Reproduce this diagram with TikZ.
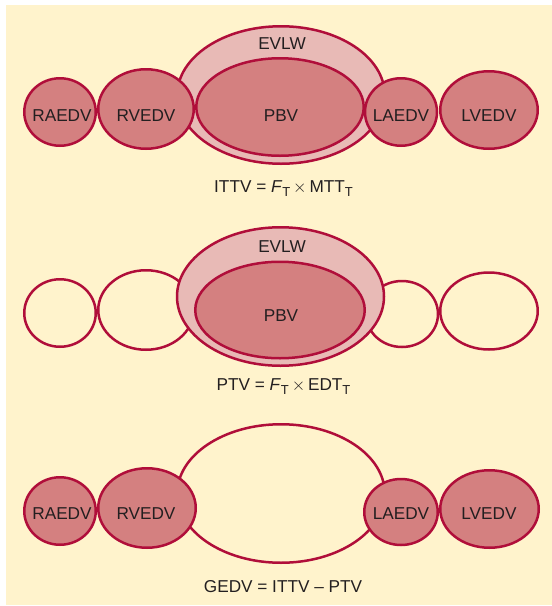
\documentclass[tikz,border=0pt]{standalone}
\usepackage{fontspec}
\setmainfont{Liberation Sans}
\usetikzlibrary{shapes.geometric}
\definecolor{bgyellow}{RGB}{255,243,204}
\definecolor{chamberfill}{RGB}{212,128,128}
\definecolor{evlwfill}{RGB}{232,186,182}
\definecolor{edgered}{RGB}{176,14,58}
\definecolor{txtgray}{RGB}{35,31,32}
\newcommand{\subT}{\raisebox{-0.28em}{\fontsize{13}{14}\selectfont T}}
\newcommand{\mytimes}{\raisebox{-0.05em}{\fontsize{19}{20}\selectfont$\times$}}
\tikzset{
  base/.style={ellipse, draw=edgered, line width=2.5pt, inner sep=0pt, outer sep=0pt},
  chamber/.style={base, fill=chamberfill},
  emptych/.style={base, fill=none},
  evlw/.style={base, fill=evlwfill},
  lbl/.style={text=txtgray, font=\fontsize{17.2}{20}\selectfont, inner sep=0pt, anchor=base},
  sz/.style 2 args={minimum width=#1pt, minimum height=#2pt},
}
\begin{document}
\begin{tikzpicture}[x=1pt,y=-1pt]
\useasboundingbox (0,0) rectangle (552,606);
\fill[bgyellow] (6,5) rectangle (552,605);

% ---------- top row ----------
\node[evlw, sz={207.5}{137.5}] (ev1) at (281,95) {};
\node[chamber, sz={167.5}{97.5}] (pb1) at (280,107) {};
\node[chamber, sz={71.5}{67.5}] (ra1) at (60,112) {};
\node[chamber, sz={95.5}{79.5}] (rv1) at (146,109) {};
\node[chamber, sz={72}{67.5}] (la1) at (401,112) {};
\node[chamber, sz={97.5}{77.5}] (lv1) at (489,110) {};
\node[lbl] (evt1) at (282,49) {EVLW};
\node[lbl] (pbt1) at (281,121.5) {PBV};
\node[lbl] (rat1) at (62,121) {RAEDV};
\node[lbl] (rvt1) at (146,121) {RVEDV};
\node[lbl] (lat1) at (401,121.5) {LAEDV};
\node[lbl] (lvt1) at (489,121.5) {LVEDV};
\node[lbl] (f1) at (283.5,192) {ITTV = \textit{F}\subT\,\mytimes\,MTT\subT};

% ---------- middle row ----------
\node[emptych, sz={71.5}{67.5}] (ra2) at (60,313) {};
\node[emptych, sz={95.5}{79.5}] (rv2) at (146,310) {};
\node[emptych, sz={72}{66}] (la2) at (402,314) {};
\node[emptych, sz={97.5}{77}] (lv2) at (489,311) {};
\node[evlw, sz={207}{138.5}] (ev2) at (280.5,296.5) {};
\node[chamber, sz={169.5}{96.5}] (pb2) at (280,310) {};
\node[lbl] (evt2) at (282,252) {EVLW};
\node[lbl] (pbt2) at (281,321.5) {PBV};
\node[lbl] (f2) at (283.5,390) {PTV = \textit{F}\subT\,\mytimes\,EDT\subT};

% ---------- bottom row ----------
\node[emptych, sz={207.5}{138.5}] (ev3) at (281,493.5) {};
\node[chamber, sz={71.5}{67.5}] (ra3) at (60,511) {};
\node[chamber, sz={97.5}{79.5}] (rv3) at (147,508) {};
\node[chamber, sz={73.5}{66}] (la3) at (401,512) {};
\node[chamber, sz={98.5}{77.5}] (lv3) at (489.5,509) {};
\node[lbl] (rat3) at (62,519.5) {RAEDV};
\node[lbl] (rvt3) at (146,519.5) {RVEDV};
\node[lbl] (lat3) at (401,519.5) {LAEDV};
\node[lbl] (lvt3) at (489,519.5) {LVEDV};
\node[lbl] (f3) at (283,592) {GEDV = ITTV – PTV};
\end{tikzpicture}
\end{document}
